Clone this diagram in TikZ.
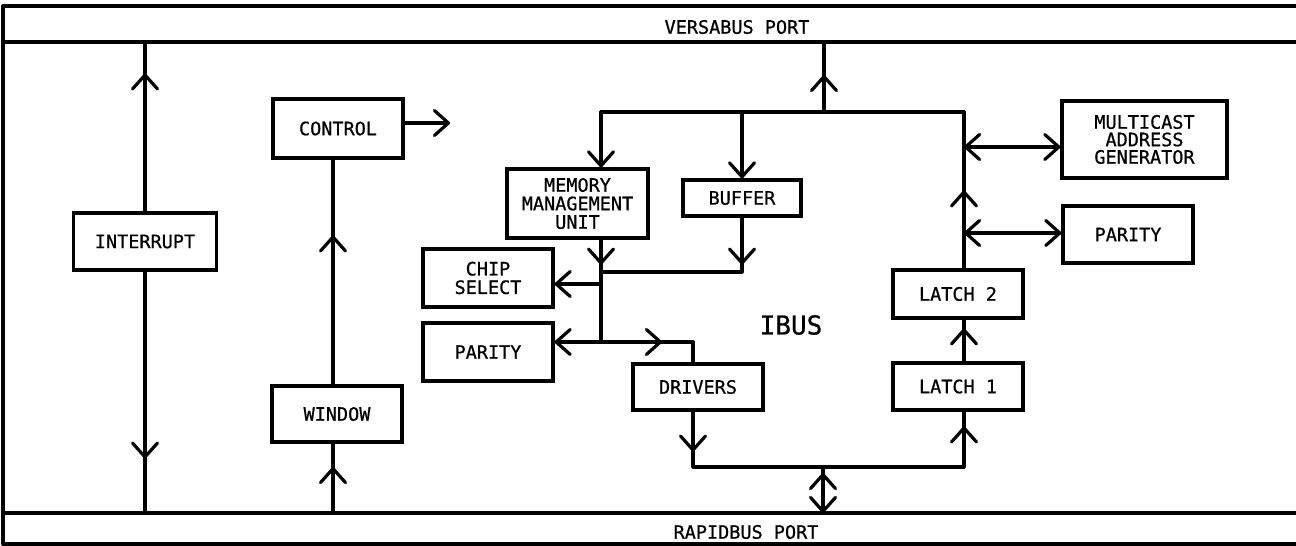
\documentclass[tikz,border=0pt]{standalone}
\usepackage{fontspec}
\newfontfamily\plotfont[FakeBold=0.7]{DejaVu Sans Mono}
\usetikzlibrary{arrows.meta,decorations.markings}
\newcommand\bxfont{\plotfont\fontsize{18.5}{18.5}\selectfont}
\tikzset{
  barb/.tip={Straight Barb[length=14pt,width=25pt,round]},
  ln/.style={line width=3.2pt, line cap=round, line join=round},
  box/.style={draw, line width=3.2pt, inner sep=0pt, align=center, font=\bxfont},
  lbl/.style={inner sep=0pt, font=\bxfont},
  chev/.style={postaction={decorate,decoration={markings,mark=at position #1 with {\arrow{barb}}}}},
}
\begin{document}
\begin{tikzpicture}[x=1pt,y=-1pt]
\useasboundingbox (0,0) rectangle (1296,546);
% ports
\draw[ln] (1296,6) -- (3,6) -- (3,544) -- (1296,544);
\draw[ln] (3,42) -- (1296,42);
\draw[ln] (3,513) -- (1296,513);
\coordinate (vbus) at (0,42);
\coordinate (rbus) at (0,513);
\node[lbl] (vb) at (737,27) {VERSABUS PORT};
\node[lbl] (rb) at (746,532) {RAPIDBUS PORT};
% boxes
\node[box, minimum width=143pt, minimum height=57pt] (intr) at (145,241.5) {INTERRUPT};
\node[box, minimum width=130pt, minimum height=59pt] (ctrl) at (338,128.5) {CONTROL};
\node[box, minimum width=130pt, minimum height=56pt] (win) at (337,414) {WINDOW};
\node[box, minimum width=141pt, minimum height=69pt] (mmu) at (577.5,203.5) {MEMORY\\MANAGEMENT\\UNIT};
\node[box, minimum width=118pt, minimum height=36pt] (buf) at (742,198) {BUFFER};
\node[box, minimum width=130pt, minimum height=58pt] (chip) at (488,278) {CHIP\\SELECT};
\node[box, minimum width=130pt, minimum height=58pt] (parL) at (488,352) {PARITY};
\node[box, minimum width=130pt, minimum height=46pt] (drv) at (698,387) {DRIVERS};
\node[box, minimum width=130pt, minimum height=47pt] (lat1) at (958,386.5) {LATCH 1};
\node[box, minimum width=130pt, minimum height=48pt] (lat2) at (958,294) {LATCH 2};
\node[box, minimum width=165pt, minimum height=77pt, font=\plotfont\fontsize{18.5}{17.5}\selectfont] (mca) at (1144.5,139.5) {MULTICAST\\ADDRESS\\GENERATOR};
\node[box, minimum width=130pt, minimum height=57pt] (parR) at (1128,234.5) {PARITY};
\node[inner sep=0pt, font=\plotfont\fontsize{26}{28}\selectfont] (ibus) at (791,325) {IBUS};
% helper coordinates
\coordinate (cwx) at (333,300);
\coordinate (ctrlout) at (450,123);
\coordinate (jt) at (824,112);
\coordinate (tl) at (601,112);
\coordinate (tr) at (964,112);
\coordinate (mj) at (964,147);
\coordinate (pj) at (964,233);
\coordinate (j1) at (601,272);
\coordinate (j2) at (601,284);
\coordinate (j3) at (601,342);
\coordinate (dx) at (693,300);
\coordinate (bl) at (693,467);
\coordinate (br) at (964,467);
\coordinate (bm) at (823,467);
% left side
\draw[ln, chev=138pt] (intr.north) -- (intr.north |- vbus);
\draw[ln, chev=187pt] (intr.south) -- (intr.south |- rbus);
\draw[ln, chev=46pt] (cwx |- rbus) -- (cwx |- win.south);
\draw[ln, chev=149pt] (cwx |- win.north) -- (cwx |- ctrl.south);
\draw[ln, -barb] (ctrl.east |- ctrlout) -- (ctrlout);
% top tree
\draw[ln, chev=37pt] (jt) -- (jt |- vbus);
\draw[ln] (tl) -- (tr);
\draw[ln, -barb] (tl) -- (tl |- mmu.north);
\draw[ln, -barb] (buf.north |- tl) -- (buf.north);
% right side
\draw[ln, chev=78pt] (tr |- lat2.north) -- (tr);
\draw[ln, barb-barb] (mj) -- (mj -| mca.west);
\draw[ln, barb-barb] (pj) -- (pj -| parR.west);
\draw[ln, chev=33pt] (tr |- lat1.north) -- (tr |- lat2.south);
% centre
\draw[ln, chev=25pt] (tl |- mmu.south) -- (j3);
\draw[ln, chev=47pt] (buf.south) -- (buf.south |- j1) -- (j1);
\draw[ln, -barb] (j2) -- (j2 -| chip.east);
\draw[ln, -barb] (j3) -- (j3 -| parL.east);
\draw[ln, chev=61pt] (j3) -- (j3 -| dx) -- (dx |- drv.north);
% bottom
\draw[ln, chev=40pt, chev=367pt] (bl |- drv.south) -- (bl) -- (br) -- (br |- lat1.south);
\draw[ln, barb-, chev=40pt] (bm |- rbus) -- (bm);
\end{tikzpicture}
\end{document}
